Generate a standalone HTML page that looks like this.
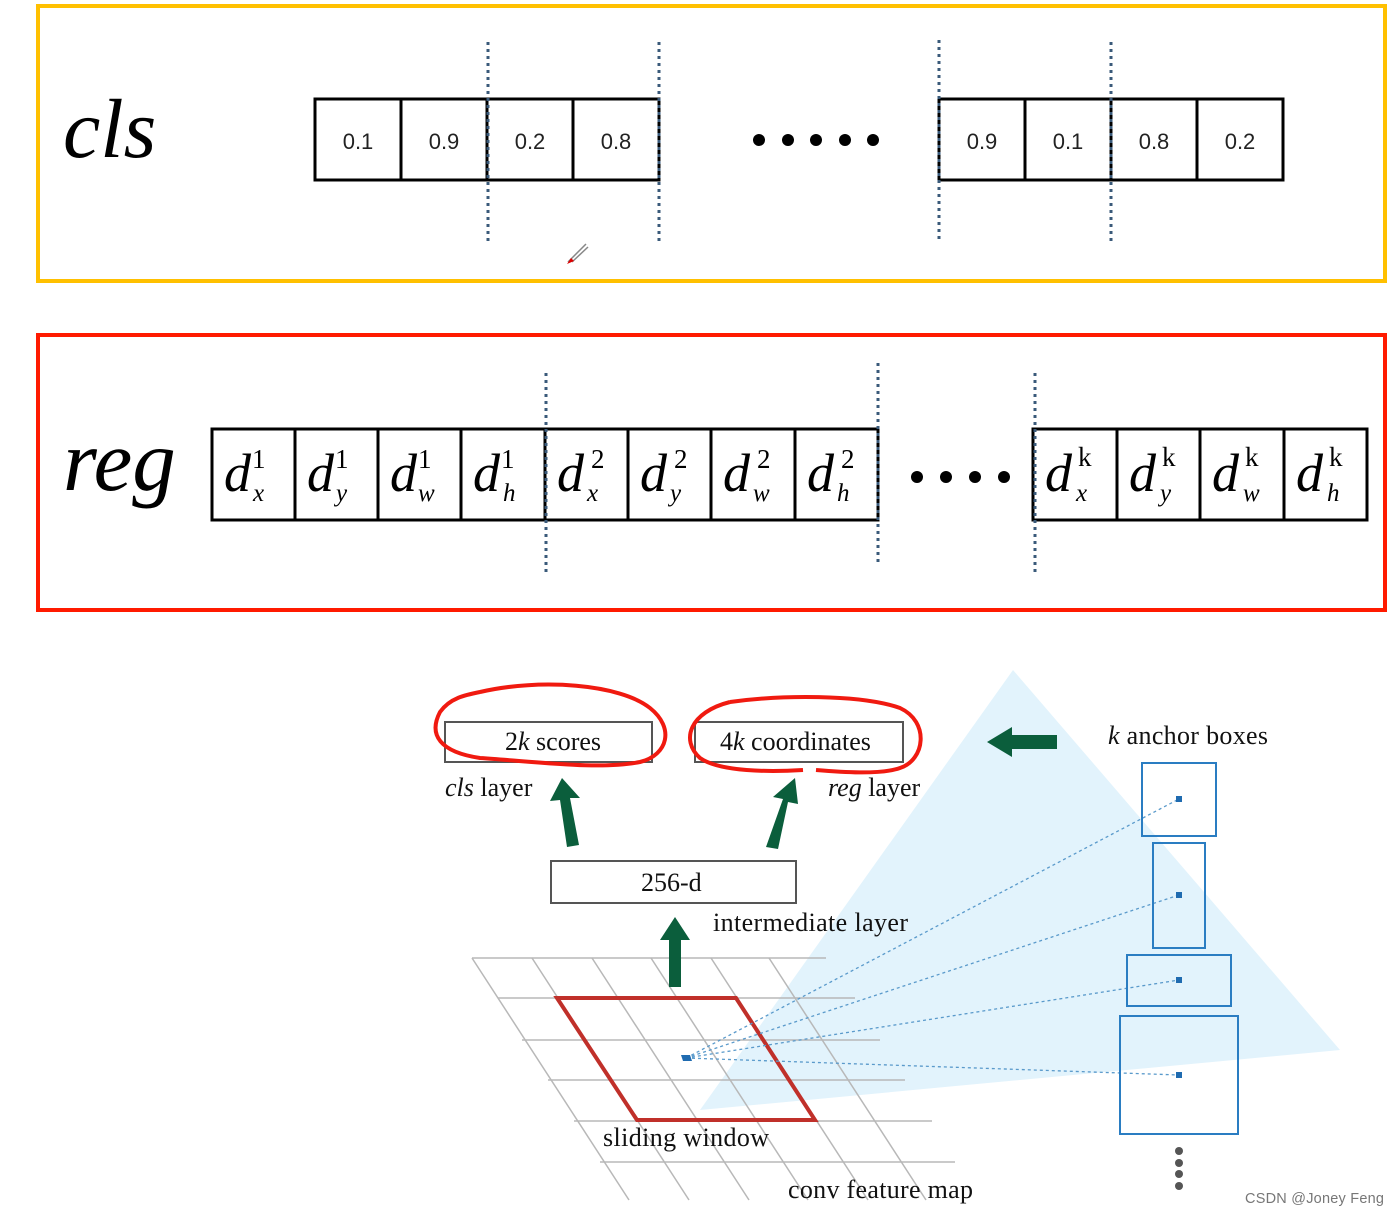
<!DOCTYPE html>
<html><head><meta charset="utf-8"><style>html,body{margin:0;padding:0;background:#fff;}svg{display:block}</style></head>
<body>
<svg width="1399" height="1216" viewBox="0 0 1399 1216" xmlns="http://www.w3.org/2000/svg" font-family="Liberation Serif, serif">
<!-- frames -->
<rect x="38" y="6" width="1347" height="275" fill="none" stroke="#FFC000" stroke-width="4"/>
<rect x="38" y="335" width="1347" height="275" fill="none" stroke="#FF1A00" stroke-width="4"/>

<!-- cls -->
<text x="63" y="157" font-size="84" font-style="italic">cls</text>
<g stroke="#000" stroke-width="3" fill="none">
<rect x="315" y="99" width="344" height="81"/>
<line x1="401" y1="99" x2="401" y2="180"/><line x1="487" y1="99" x2="487" y2="180"/><line x1="573" y1="99" x2="573" y2="180"/>
<rect x="939" y="99" width="344" height="81"/>
<line x1="1025" y1="99" x2="1025" y2="180"/><line x1="1111" y1="99" x2="1111" y2="180"/><line x1="1197" y1="99" x2="1197" y2="180"/>
</g>
<g font-family="Liberation Sans, sans-serif" font-size="22" fill="#222" text-anchor="middle">
<text x="358" y="149">0.1</text><text x="444" y="149">0.9</text><text x="530" y="149">0.2</text><text x="616" y="149">0.8</text>
<text x="982" y="149">0.9</text><text x="1068" y="149">0.1</text><text x="1154" y="149">0.8</text><text x="1240" y="149">0.2</text>
</g>
<g fill="#000"><circle cx="759" cy="140" r="6"/><circle cx="788" cy="140" r="6"/><circle cx="816" cy="140" r="6"/><circle cx="845" cy="140" r="6"/><circle cx="873" cy="140" r="6"/></g>
<g stroke="#3a5a7a" stroke-width="3" stroke-dasharray="3,4">
<line x1="488" y1="42" x2="488" y2="244"/><line x1="659" y1="42" x2="659" y2="244"/>
<line x1="939" y1="40" x2="939" y2="242"/><line x1="1111" y1="42" x2="1111" y2="244"/>
</g>
<path d="M568 262 L586 244 M572 262 L588 247" stroke="#888" stroke-width="1.5"/><path d="M567 264 l4 -6 l3 3z" fill="#d00"/>

<!-- reg -->
<text x="63" y="490" font-size="87" font-style="italic">reg</text>
<g stroke="#000" stroke-width="3" fill="none">
<rect x="212" y="429" width="666" height="91"/>
<line x1="295" y1="429" x2="295" y2="520"/><line x1="378" y1="429" x2="378" y2="520"/><line x1="461" y1="429" x2="461" y2="520"/><line x1="545" y1="429" x2="545" y2="520"/><line x1="628" y1="429" x2="628" y2="520"/><line x1="711" y1="429" x2="711" y2="520"/><line x1="795" y1="429" x2="795" y2="520"/>
<rect x="1033" y="429" width="334" height="91"/>
<line x1="1117" y1="429" x2="1117" y2="520"/><line x1="1200" y1="429" x2="1200" y2="520"/><line x1="1284" y1="429" x2="1284" y2="520"/>
</g>
<g font-size="54">
<text x="224" y="491" font-style="italic">d</text><text x="252" y="468" font-size="27">1</text><text x="253" y="501" font-size="25" font-style="italic">x</text>
<text x="307" y="491" font-style="italic">d</text><text x="335" y="468" font-size="27">1</text><text x="336" y="501" font-size="25" font-style="italic">y</text>
<text x="390" y="491" font-style="italic">d</text><text x="418" y="468" font-size="27">1</text><text x="418" y="501" font-size="25" font-style="italic">w</text>
<text x="473" y="491" font-style="italic">d</text><text x="501" y="468" font-size="27">1</text><text x="503" y="501" font-size="25" font-style="italic">h</text>
<text x="557" y="491" font-style="italic">d</text><text x="591" y="468" font-size="27">2</text><text x="587" y="501" font-size="25" font-style="italic">x</text>
<text x="640" y="491" font-style="italic">d</text><text x="674" y="468" font-size="27">2</text><text x="670" y="501" font-size="25" font-style="italic">y</text>
<text x="723" y="491" font-style="italic">d</text><text x="757" y="468" font-size="27">2</text><text x="753" y="501" font-size="25" font-style="italic">w</text>
<text x="807" y="491" font-style="italic">d</text><text x="841" y="468" font-size="27">2</text><text x="837" y="501" font-size="25" font-style="italic">h</text>
<text x="1045" y="491" font-style="italic">d</text><text x="1078" y="466" font-size="27">k</text><text x="1076" y="501" font-size="25" font-style="italic">x</text>
<text x="1129" y="491" font-style="italic">d</text><text x="1162" y="466" font-size="27">k</text><text x="1160" y="501" font-size="25" font-style="italic">y</text>
<text x="1212" y="491" font-style="italic">d</text><text x="1245" y="466" font-size="27">k</text><text x="1243" y="501" font-size="25" font-style="italic">w</text>
<text x="1296" y="491" font-style="italic">d</text><text x="1329" y="466" font-size="27">k</text><text x="1327" y="501" font-size="25" font-style="italic">h</text>
</g>
<g fill="#000"><circle cx="917" cy="477" r="6"/><circle cx="946" cy="477" r="6"/><circle cx="975" cy="477" r="6"/><circle cx="1004" cy="477" r="6"/></g>
<g stroke="#3a5a7a" stroke-width="3" stroke-dasharray="3,4">
<line x1="546" y1="373" x2="546" y2="573"/><line x1="878" y1="363" x2="878" y2="563"/><line x1="1035" y1="373" x2="1035" y2="573"/>
</g>

<!-- bottom diagram -->
<polygon points="1013,670 1340,1050 700,1110" fill="#e2f3fc"/>
<!-- grid -->
<g stroke="#b8b8b8" stroke-width="1.5">
<line x1="472" y1="958" x2="826" y2="958"/><line x1="498" y1="998" x2="855" y2="998"/><line x1="522" y1="1040" x2="880" y2="1040"/><line x1="548" y1="1080" x2="905" y2="1080"/><line x1="574" y1="1121" x2="932" y2="1121"/><line x1="600" y1="1162" x2="955" y2="1162"/>
<line x1="472" y1="958" x2="629" y2="1200"/><line x1="532" y1="958" x2="689" y2="1200"/><line x1="592" y1="958" x2="749" y2="1200"/><line x1="651" y1="958" x2="808" y2="1200"/><line x1="711" y1="958" x2="868" y2="1200"/><line x1="769" y1="958" x2="926" y2="1200"/>
</g>
<polygon points="557,998 736,998 815,1120 637,1120" fill="none" stroke="#c0302a" stroke-width="4"/>
<g stroke="#5a9acb" stroke-width="1.3" stroke-dasharray="3,3">
<line x1="686" y1="1058" x2="1179" y2="799"/><line x1="686" y1="1058" x2="1179" y2="895"/><line x1="686" y1="1058" x2="1179" y2="980"/><line x1="686" y1="1058" x2="1179" y2="1075"/>
</g>
<polygon points="681,1055 690,1055 692,1061 683,1061" fill="#1f6bb0"/>
<g fill="none" stroke="#2a7dc2" stroke-width="2">
<rect x="1142" y="763" width="74" height="73"/><rect x="1153" y="843" width="52" height="105"/><rect x="1127" y="955" width="104" height="51"/><rect x="1120" y="1016" width="118" height="118"/>
</g>
<g fill="#1f6bb0"><rect x="1176" y="796" width="6" height="6"/><rect x="1176" y="892" width="6" height="6"/><rect x="1176" y="977" width="6" height="6"/><rect x="1176" y="1072" width="6" height="6"/></g>
<g fill="#555"><circle cx="1179" cy="1151" r="4"/><circle cx="1179" cy="1163" r="4"/><circle cx="1179" cy="1174" r="4"/><circle cx="1179" cy="1186" r="4"/></g>
<g fill="#fff" stroke="#555" stroke-width="2">
<rect x="445" y="722" width="207" height="40"/><rect x="695" y="722" width="208" height="40"/><rect x="551" y="861" width="245" height="42"/>
</g>
<g font-size="26" fill="#111">
<text x="505" y="750">2<tspan font-style="italic">k</tspan> scores</text>
<text x="720" y="750">4<tspan font-style="italic">k</tspan> coordinates</text>
<text x="641" y="891">256-d</text>
<text x="445" y="796"><tspan font-style="italic">cls</tspan> layer</text>
<text x="828" y="796"><tspan font-style="italic">reg</tspan> layer</text>
<text x="713" y="931" textLength="195">intermediate layer</text>
<text x="603" y="1146" textLength="166">sliding window</text>
<text x="788" y="1198" textLength="185">conv feature map</text>
<text x="1108" y="744" textLength="160"><tspan font-style="italic">k</tspan> anchor boxes</text>
</g>
<g fill="none" stroke="#f01a10" stroke-width="4">
<path d="M480 692 C540 678 620 684 650 708 C675 728 668 755 640 762 C600 770 540 762 480 758 C440 752 428 735 440 712 C450 698 465 695 480 692"/>
<path d="M730 702 C780 695 860 694 900 708 C930 722 925 760 900 768 C880 775 840 772 816 770 M803 770 C770 772 720 772 700 758 C680 740 690 712 730 702"/>
</g>
<g fill="#0b5e3c">
<polygon points="567,847 579,845 570,798 580,798 562,778 550,801 560,800"/>
<polygon points="766,847 778,849 788,802 798,804 795,778 773,797 783,799"/>
<polygon points="669,987 681,987 681,940 690,940 675,917 660,940 669,940"/>
<polygon points="1057,735 1057,749 1012,749 1012,757 987,742 1012,727 1012,735"/>
</g>
<text x="1245" y="1203" font-family="Liberation Sans, sans-serif" font-size="14.5" fill="#777" textLength="139">CSDN @Joney Feng</text>
</svg>
</body></html>
